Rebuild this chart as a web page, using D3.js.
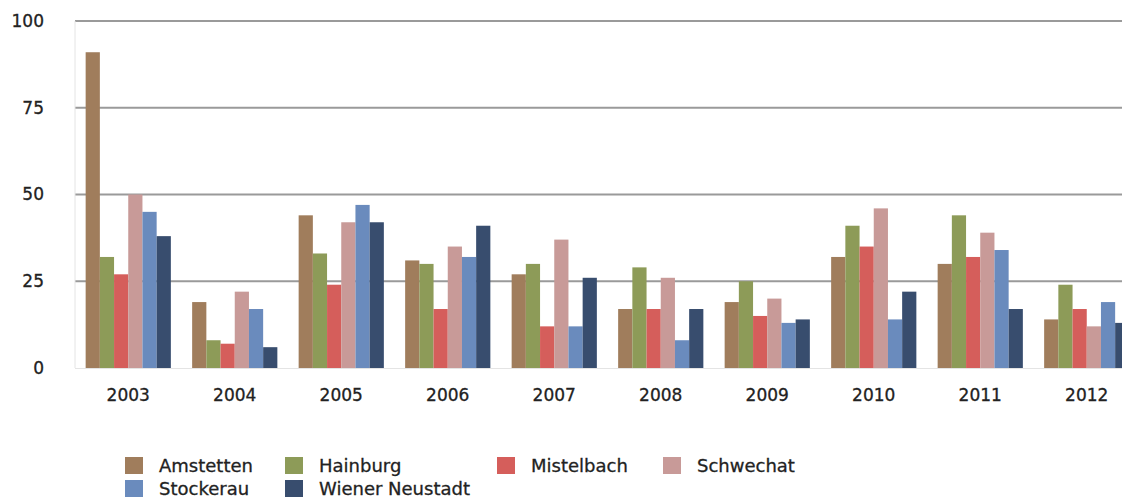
<!DOCTYPE html>
<html>
<head>
<meta charset="utf-8">
<script src="https://cdn.jsdelivr.net/npm/d3@7"></script>
<style>
  body { margin: 0; background: #fff; }
  text { font-family: "DejaVu Sans", sans-serif; fill: #222; stroke: #222; stroke-width: 0.3px; }
</style>
</head>
<body>
<svg id="bar-chart" width="1122" height="499"></svg>
<script>
const years = ["2003", "2004", "2005", "2006", "2007", "2008", "2009", "2010", "2011", "2012"];
const towns = ["Amstetten", "Hainburg", "Mistelbach", "Schwechat", "Stockerau", "Wiener Neustadt"];
const colors = ["#a07d5c", "#8d9b58", "#d55e5b", "#c89a98", "#6a8bbd", "#384d6e"];
const yTicks = [0, 25, 50, 75, 100];

const amstetten = [91, 19, 44, 31, 27, 17, 19, 32, 30, 14];
const hainburg = [32, 8, 33, 30, 30, 29, 25, 41, 44, 24];
const mistelbach = [27, 7, 24, 17, 12, 17, 15, 35, 32, 17];
const schwechat = [50, 22, 42, 35, 37, 26, 20, 46, 39, 12];
const stockerau = [45, 17, 47, 32, 12, 8, 13, 14, 34, 19];
const wienerNeustadt = [38, 6, 42, 41, 26, 17, 14, 22, 17, 13];

const series = [amstetten, hainburg, mistelbach, schwechat, stockerau, wienerNeustadt];

const svg = d3.select("#bar-chart");

const xScale = d3.scaleBand().domain(years).range([75, 1140])
  .paddingInner(0.2).paddingOuter(0.1);
const xInner = d3.scaleBand().domain(towns).range([0, xScale.bandwidth()]);
const yScale = d3.scaleLinear().domain([0, 100]).range([368, 21]);

// grid lines
svg.append("g")
  .selectAll("line")
  .data(yTicks.filter(d => d > 0))
  .enter()
  .append("line")
  .attr("x1", 75)
  .attr("x2", 1122)
  .attr("y1", d => yScale(d))
  .attr("y2", d => yScale(d))
  .attr("stroke", "#9a9a9a")
  .attr("stroke-width", 2);

// faint axis lines
svg.append("line")
  .attr("x1", 75).attr("x2", 75)
  .attr("y1", yScale(100)).attr("y2", yScale(0))
  .attr("stroke", "#e4e4e4");
svg.append("line")
  .attr("x1", 75).attr("x2", 1122)
  .attr("y1", yScale(0) + 0.5).attr("y2", yScale(0) + 0.5)
  .attr("stroke", "#e4e4e4");

// y labels
svg.append("g")
  .selectAll("text")
  .data(yTicks)
  .enter()
  .append("text")
  .attr("x", 44)
  .attr("y", d => yScale(d))
  .attr("dy", "0.35em")
  .attr("text-anchor", "end")
  .attr("font-size", "17px")
  .text(d => d);

// bars
const groups = svg.append("g")
  .selectAll("g")
  .data(years)
  .enter()
  .append("g")
  .attr("transform", d => "translate(" + xScale(d) + ",0)");

groups.selectAll("rect")
  .data((year, i) => towns.map((t, j) => ({ town: t, value: series[j][i], color: colors[j] })))
  .enter()
  .append("rect")
  .attr("x", d => xInner(d.town))
  .attr("y", d => yScale(d.value))
  .attr("width", xInner.bandwidth())
  .attr("height", d => yScale(0) - yScale(d.value))
  .attr("fill", d => d.color);

// x labels
svg.append("g")
  .selectAll("text")
  .data(years)
  .enter()
  .append("text")
  .attr("x", d => xScale(d) + xScale.bandwidth() / 2)
  .attr("y", 401)
  .attr("text-anchor", "middle")
  .attr("font-size", "17px")
  .text(d => d);

// legend
const legendPos = [
  [125, 457], [285, 457], [497, 457], [663, 457],
  [125, 480], [285, 480]
];
const legend = svg.append("g")
  .selectAll("g")
  .data(towns)
  .enter()
  .append("g")
  .attr("transform", (d, i) => "translate(" + legendPos[i][0] + "," + legendPos[i][1] + ")");

legend.append("rect")
  .attr("width", 18)
  .attr("height", 17)
  .attr("fill", (d, i) => colors[i]);

legend.append("text")
  .attr("x", 34)
  .attr("y", 15)
  .attr("font-size", "18px")
  .text(d => d);
</script>
</body>
</html>
